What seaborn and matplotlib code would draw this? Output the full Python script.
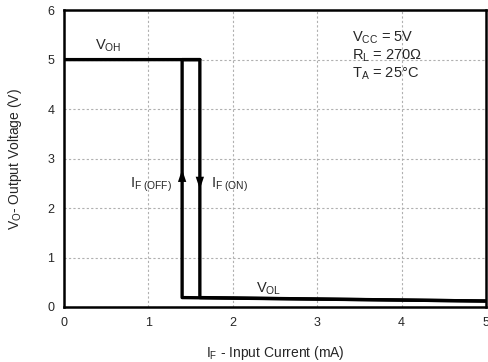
import matplotlib
matplotlib.use("Agg")
import matplotlib.pyplot as plt
import seaborn as sns
import pandas as pd

# hysteresis sweeps
on_current = [0.0, 1.61, 1.61, 5.0]
on_voltage = [5.0, 5.0, 0.19, 0.12]
off_current = [5.0, 1.40, 1.40, 1.61]
off_voltage = [0.12, 0.19, 5.0, 5.0]

x_ticks = [0, 1, 2, 3, 4, 5]
y_ticks = [0, 1, 2, 3, 4, 5, 6]
conditions = "V$_{CC}$ = 5V\nR$_{L}$ = 270Ω\nT$_{A}$ = 25°C"

sns.set_style("white")
plt.rcParams["font.family"] = ["Liberation Sans", "DejaVu Sans"]
plt.rcParams["mathtext.fontset"] = "custom"
plt.rcParams["mathtext.rm"] = "Liberation Sans"
plt.rcParams["mathtext.it"] = "Liberation Sans"

fig = plt.figure(figsize=(4.88, 3.62), dpi=100)
ax = fig.add_axes([0.131, 0.152, 0.865, 0.82])

on_df = pd.DataFrame({"current": on_current, "voltage": on_voltage})
off_df = pd.DataFrame({"current": off_current, "voltage": off_voltage})
sns.lineplot(data=on_df, x="current", y="voltage", sort=False, estimator=None,
             color="black", linewidth=2.4, ax=ax)
sns.lineplot(data=off_df, x="current", y="voltage", sort=False, estimator=None,
             color="black", linewidth=2.4, ax=ax)

# direction arrows
head = dict(arrowstyle="-|>,head_length=0.9,head_width=0.3", color="black",
            lw=0, mutation_scale=10, shrinkA=0, shrinkB=0)
ax.annotate("", xy=(off_current[1], 2.78), xytext=(off_current[1], 2.38), arrowprops=head)
ax.annotate("", xy=(on_current[1], 2.38), xytext=(on_current[1], 2.78), arrowprops=head)

ax.set_xlim(0, 5)
ax.set_ylim(0, 6)
ax.set_xticks(x_ticks)
ax.set_yticks(y_ticks)
ax.grid(True, color="#b0b0b0", linestyle=(0, (2, 2)), linewidth=0.8)
for s in ax.spines.values():
    s.set_color("black")
    s.set_linewidth(1.8)
ax.tick_params(axis="both", length=0, labelsize=9, pad=7)

ax.text(0.37, 5.2, "V$_{OH}$", fontsize=10.5)
ax.text(2.27, 0.3, "V$_{OL}$", fontsize=10.5)
ax.text(1.28, 2.42, "I$_{F\\ (OFF)}$", fontsize=10.5, ha="right")
ax.text(1.74, 2.42, "I$_{F\\ (ON)}$", fontsize=10.5, ha="left")
ax.text(3.41, 5.6, conditions, fontsize=10.5, va="top", linespacing=1.1)

ax.set_xlabel("I$_F$ - Input Current (mA)", fontsize=10, labelpad=11)
ax.set_ylabel("V$_O$- Output Voltage (V)", fontsize=10, labelpad=17)

fig.savefig("out.png", dpi=100)
